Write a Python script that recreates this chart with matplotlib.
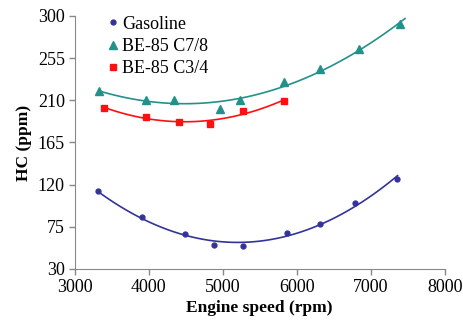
import numpy as np
import matplotlib
matplotlib.use("Agg")
import matplotlib.pyplot as plt

plt.rcParams["font.family"] = ["Liberation Serif", "DejaVu Serif"]

# HC emissions vs engine speed
gas_rpm = [3315, 3913, 4492, 4886, 5276, 5874, 6318, 6780, 7355]
gas_hc = [113, 85, 67, 56, 55, 68.5, 78.5, 100, 126]
c78_rpm = [3333, 3967, 4338, 4963, 5235, 5829, 6308, 6842, 7400]
c78_hc = [220, 210, 210, 201, 210, 229, 243, 265, 291]
c34_rpm = [3401, 3971, 4406, 4832, 5276, 5829]
c34_hc = [202, 192, 187, 185, 199, 209.5]

series = [
    ("Gasoline", gas_rpm, gas_hc, "#33339a", "o", 3.5, 7360),
    ("BE-85 C7/8", c78_rpm, c78_hc, "#23918a", "^", 5.5, 7460),
    ("BE-85 C3/4", c34_rpm, c34_hc, "#ff1010", "s", 4.5, 5840),
]

fig = plt.figure(figsize=(4.63, 3.26), dpi=100)
ax = fig.add_axes([0.161, 0.175, 0.80, 0.776])

for name, x, y, col, mk, ms, xend in series:
    x = np.asarray(x, float)
    y = np.asarray(y, float)
    # quadratic trend line
    p = np.polyfit(x, y, 2)
    xx = np.linspace(x.min(), xend, 100)
    ax.plot(xx, np.polyval(p, xx), color=col, lw=1.2, zorder=2)
    ax.plot(x, y, ls="none", marker=mk, ms=ms, color=col, label=name, zorder=3)

ax.set_xlim(3000, 8000)
ax.set_ylim(30, 300)
ax.set_xticks(range(3000, 8001, 1000))
ax.set_yticks(range(30, 301, 45))
ax.tick_params(labelsize=13, length=4, color="#888888", width=1, pad=3)
ax.tick_params(axis="x", direction="out")
for s in ["top", "right"]:
    ax.spines[s].set_visible(False)
for s in ["left", "bottom"]:
    ax.spines[s].set_color("#888888")

ax.set_xlabel("Engine speed (rpm)", fontsize=12.5, fontweight="bold", labelpad=3)
ax.set_ylabel("HC (ppm)", fontsize=12.5, fontweight="bold", labelpad=4)

ax.legend(loc="upper left", bbox_to_anchor=(0.055, 1.03), frameon=False,
          fontsize=13, handletextpad=-0.1, handlelength=1.2, labelspacing=0.3,
          borderaxespad=0)

fig.savefig("out.png", dpi=100)
